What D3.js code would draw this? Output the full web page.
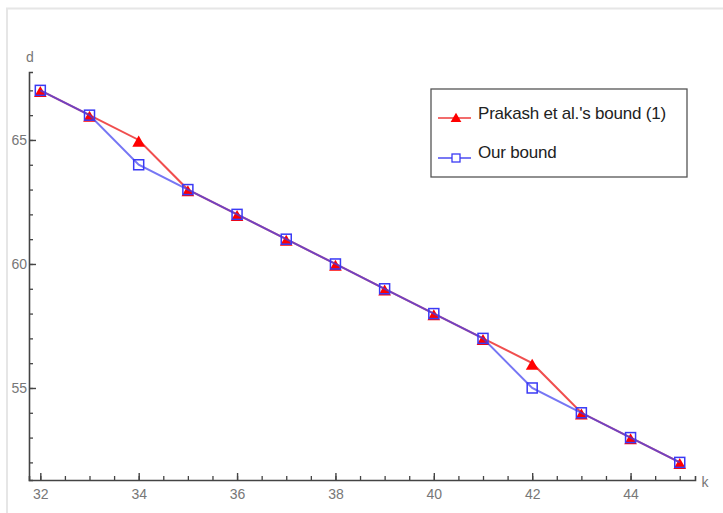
<!DOCTYPE html>
<html>
<head>
<meta charset="utf-8">
<script src="https://cdn.jsdelivr.net/npm/d3@7"></script>
<style>
  body { margin: 0; background: #fff; }
  text { font-family: "Liberation Sans", Arial, sans-serif; }
</style>
</head>
<body>
<div class="canvas"></div>
<script>
const kValues = [32, 33, 34, 35, 36, 37, 38, 39, 40, 41, 42, 43, 44, 45];
const prakashBound = [67, 66, 65, 63, 62, 61, 60, 59, 58, 57, 56, 54, 53, 52];
const ourBound = [67, 66, 64, 63, 62, 61, 60, 59, 58, 57, 55, 54, 53, 52];
const xMajorTicks = [32, 34, 36, 38, 40, 42, 44];
const xMinorTicks = d3.range(32, 45.01, 0.5);
const yMajorTicks = [55, 60, 65];
const yMinorTicks = d3.range(52, 68, 1);
const legendLabels = ["Prakash et al.'s bound (1)", "Our bound"];

const width = 723, height = 513;
const svg = d3.select(".canvas")
    .append("svg")
    .attr("width", width)
    .attr("height", height);

// faint frame of the original screenshot
svg.append("path")
    .attr("d", "M7,513 L7,8.5 L723,8.5")
    .attr("fill", "none")
    .attr("stroke", "#e6e6e6")
    .attr("stroke-width", 2);

const x = d3.scaleLinear().domain([31.77, 45.31]).range([29, 695]);
const y = d3.scaleLinear().domain([51.29, 67.74]).range([480, 72]);

const axisColour = "#444";
const labelColour = "#777";

// x axis
const xAxisGroup = svg.append("g").attr("transform", `translate(0, ${y.range()[0]})`);
xAxisGroup.call(d3.axisBottom(x).tickValues(xMinorTicks).tickSize(-4).tickFormat(""));
xAxisGroup.selectAll(".tick line").attr("stroke", axisColour).attr("stroke-width", 1.3);
const xMajor = svg.append("g").attr("transform", `translate(0, ${y.range()[0]})`)
    .call(d3.axisBottom(x).tickValues(xMajorTicks).tickSize(-7).tickPadding(9).tickFormat(d3.format("d")));
xMajor.select(".domain").remove();
xMajor.selectAll(".tick line").attr("stroke", axisColour).attr("stroke-width", 1.4);
xMajor.selectAll("text").attr("fill", labelColour).style("font-size", "14px");
xAxisGroup.select(".domain").attr("stroke", axisColour).attr("stroke-width", 1.6);

// y axis
const yAxisGroup = svg.append("g").attr("transform", `translate(${x.range()[0]}, 0)`);
yAxisGroup.call(d3.axisLeft(y).tickValues(yMinorTicks).tickSize(-4).tickFormat(""));
yAxisGroup.selectAll(".tick line").attr("stroke", axisColour).attr("stroke-width", 1.3);
const yMajor = svg.append("g").attr("transform", `translate(${x.range()[0]}, 0)`)
    .call(d3.axisLeft(y).tickValues(yMajorTicks).tickSize(-7).tickPadding(2).tickFormat(d3.format("d")));
yMajor.select(".domain").remove();
yMajor.selectAll(".tick line").attr("stroke", axisColour).attr("stroke-width", 1.4);
yMajor.selectAll("text").attr("fill", labelColour).style("font-size", "14px");
yAxisGroup.select(".domain").attr("stroke", axisColour).attr("stroke-width", 1.6);

svg.append("text").attr("x", 30).attr("y", 62).attr("text-anchor", "middle")
    .attr("fill", labelColour).style("font-size", "14px").text("d");
svg.append("text").attr("x", 705).attr("y", 487).attr("text-anchor", "middle")
    .attr("fill", labelColour).style("font-size", "14px").text("k");

// series
const redData = kValues.map((k, i) => ({ k, d: prakashBound[i] }));
const blueData = kValues.map((k, i) => ({ k, d: ourBound[i] }));
const line = d3.line().x(d => x(d.k)).y(d => y(d.d));

svg.append("path").datum(redData)
    .attr("d", line).attr("fill", "none")
    .attr("stroke", "#ee3b3b").attr("stroke-width", 2).attr("stroke-opacity", 0.9);

svg.selectAll(".tri").data(redData).enter()
    .append("path")
    .attr("class", "tri")
    .attr("d", d3.symbol(d3.symbolTriangle, 70))
    .attr("transform", d => `translate(${x(d.k)}, ${y(d.d) + 3})`)
    .attr("fill", "#ff0000");

svg.append("path").datum(blueData)
    .attr("d", line).attr("fill", "none")
    .attr("stroke", "#3c3cf0").attr("stroke-width", 2).attr("stroke-opacity", 0.7);

svg.selectAll(".sq").data(blueData).enter()
    .append("rect")
    .attr("class", "sq")
    .attr("x", d => x(d.k) - 5).attr("y", d => y(d.d) - 5)
    .attr("width", 10).attr("height", 10)
    .attr("fill", "none").attr("stroke", "#3a3af5").attr("stroke-width", 1.5);

// legend
const legend = svg.append("g").attr("transform", "translate(431, 89)");
legend.append("rect").attr("width", 256).attr("height", 88)
    .attr("fill", "#fff").attr("stroke", "#555").attr("stroke-width", 1.3);
const legendRows = legend.selectAll(".row").data(legendLabels).enter()
    .append("g").attr("class", "row")
    .attr("transform", (d, i) => `translate(0, ${i === 0 ? 29 : 69})`);
legendRows.append("line").attr("x1", 7).attr("x2", 40)
    .attr("stroke", (d, i) => i === 0 ? "#ee3b3b" : "#4b4bf0").attr("stroke-width", 1.6);
legendRows.filter((d, i) => i === 0).append("path")
    .attr("d", d3.symbol(d3.symbolTriangle, 50))
    .attr("transform", "translate(25, 1)").attr("fill", "#ff0000");
legendRows.filter((d, i) => i === 1).append("rect")
    .attr("x", 21).attr("y", -4).attr("width", 8).attr("height", 8)
    .attr("fill", "#fff").attr("stroke", "#3a3af5").attr("stroke-width", 1.3);
legendRows.append("text").attr("x", 47).attr("y", (d, i) => i === 0 ? -5 : -6)
    .attr("dy", "0.35em").attr("fill", "#222").style("font-size", "17px")
    .style("letter-spacing", "-0.2px")
    .text(d => d);
</script>
</body>
</html>
